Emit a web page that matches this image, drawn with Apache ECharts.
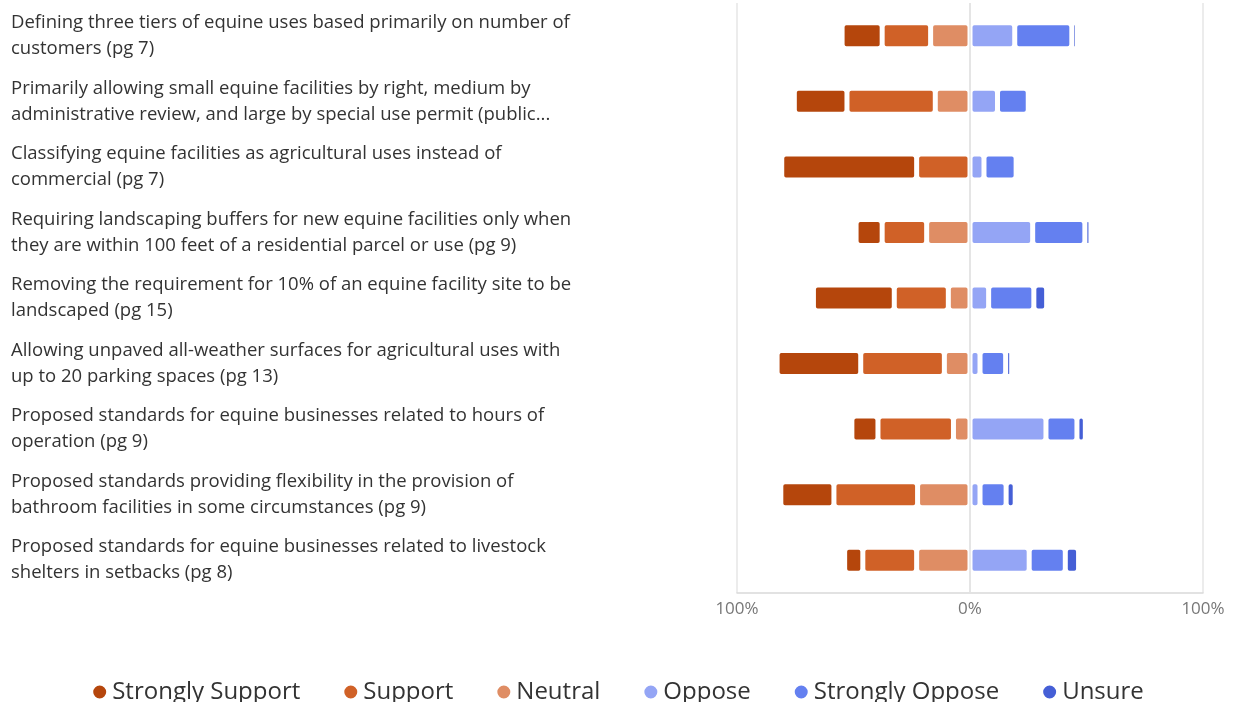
<!DOCTYPE html>
<html>
<head>
<meta charset="utf-8">
<script src="https://cdn.jsdelivr.net/npm/echarts@6/dist/echarts.min.js"></script>
<style>html,body{margin:0;padding:0;background:#fff;}#c{width:1235px;height:702px;}</style>
</head>
<body>
<div id="c"></div>
<script>
const categories = [
  "Defining three tiers of equine uses based primarily on number of\ncustomers (pg 7)",
  "Primarily allowing small equine facilities by right, medium by\nadministrative review, and large by special use permit (public...",
  "Classifying equine facilities as agricultural uses instead of\ncommercial (pg 7)",
  "Requiring landscaping buffers for new equine facilities only when\nthey are within 100 feet of a residential parcel or use (pg 9)",
  "Removing the requirement for 10% of an equine facility site to be\nlandscaped (pg 15)",
  "Allowing unpaved all-weather surfaces for agricultural uses with\nup to 20 parking spaces (pg 13)",
  "Proposed standards for equine businesses related to hours of\noperation (pg 9)",
  "Proposed standards providing flexibility in the provision of\nbathroom facilities in some circumstances (pg 9)",
  "Proposed standards for equine businesses related to livestock\nshelters in setbacks (pg 8)"
];
const stronglySupport = [17.2, 22.6, 57.9, 11.2, 34.7, 35.9, 11.2, 22.8, 7.8];
const support         = [20.8, 37.9, 22.9, 19.1, 23.2, 35.9, 32.4, 35.9, 23.1];
const neutral         = [16.9, 14.9, 0,    18.6, 9.3,  11.0, 7.1,  22.5, 22.9];
const oppose          = [19.2, 11.8, 6.0,  26.9, 8.0,  4.3,  32.6, 4.3,  25.4];
const stronglyOppose  = [24.5, 13.2, 13.8, 22.4, 19.4, 11.0, 13.3, 11.2, 15.5];
const unsure          = [2.4,  0,    0,    2.6,  5.5,  2.6,  3.6,  3.9,  5.7];
const xTicks = [-100, 0, 100];

const font = "'Open Sans', sans-serif";
function mk(name, data, color, neg) {
  return {
    name: name, type: 'bar', stack: 'all', stackStrategy: 'samesign', barWidth: 26,
    data: data.map(v => neg ? -v : v),
    itemStyle: { color: color, borderColor: '#ffffff', borderWidth: 2.5, borderRadius: 3 },
    emphasis: { disabled: true }
  };
}
const series = [
  mk('Neutral', neutral, '#DF8D64', true),
  mk('Support', support, '#D06127', true),
  mk('Strongly Support', stronglySupport, '#B5460C', true),
  mk('Oppose', oppose, '#94A5F5', false),
  mk('Strongly Oppose', stronglyOppose, '#6480F0', false),
  mk('Unsure', unsure, '#455FD6', false)
];
series[3].markLine = {
  silent: true, symbol: 'none', label: { show: false },
  lineStyle: { color: '#e3e3e3', type: 'solid', width: 1.5 },
  data: [{ xAxis: 0 }], z: 10
};

const chart = echarts.init(document.getElementById('c'), null, { renderer: 'canvas' });
chart.setOption({
  animation: false,
  textStyle: { fontFamily: font },
  grid: { left: 737, right: 32, top: 3, bottom: 109, containLabel: false },
  legend: {
    data: ['Strongly Support', 'Support', 'Neutral', 'Oppose', 'Strongly Oppose', 'Unsure'],
    left: 'center', top: 675,
    icon: 'circle', itemWidth: 15, itemHeight: 15, itemGap: 42,
    textStyle: { fontFamily: font, fontSize: 24, color: '#333' }
  },
  xAxis: {
    type: 'value', min: xTicks[0], max: xTicks[2], interval: 100,
    axisLine: { show: true, lineStyle: { color: '#d9d9d9', width: 1.5 } },
    axisTick: { show: false },
    splitLine: { show: true, lineStyle: { color: '#e6e6e6', width: 1.5 } },
    axisLabel: { formatter: v => Math.abs(v) + '%', color: '#777', fontSize: 17, fontFamily: font, margin: 8 }
  },
  yAxis: {
    type: 'category', data: categories, inverse: true,
    axisLine: { show: false }, axisTick: { show: false },
    axisLabel: { align: 'left', margin: 726, color: '#333', fontSize: 18.5, lineHeight: 26, fontFamily: font }
  },
  series: series
});
</script>
</body>
</html>
